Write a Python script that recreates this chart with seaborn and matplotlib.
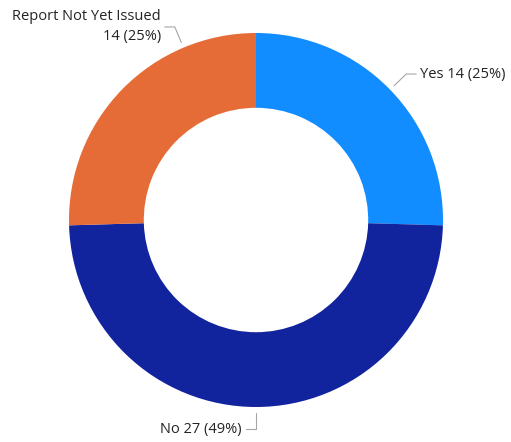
import matplotlib
matplotlib.use("Agg")
import numpy as np
import matplotlib.pyplot as plt
import seaborn as sns

labels = ["Yes", "No", "Report Not Yet Issued"]
counts = [14, 27, 14]
colors = ["#118DFF", "#12239E", "#E66C37"]

sns.set_style("white")
plt.rcParams["font.family"] = ["Open Sans", "DejaVu Sans"]

W, H, R = 511, 442, 187.0
fig = plt.figure(figsize=(W / 100, H / 100), dpi=100)
ax = fig.add_axes([0, 0, 1, 1])

wedges, _ = ax.pie(counts, colors=sns.color_palette(colors), startangle=90,
                   counterclock=False, radius=1.0,
                   wedgeprops=dict(width=0.4, linewidth=0))

total = sum(counts)
# Power BI nudges the top-left label up towards the top
angle_shift = {"Report Not Yet Issued": -23}
for w, lab, n in zip(wedges, labels, counts):
    a = np.deg2rad((w.theta1 + w.theta2) / 2 + angle_shift.get(lab, 0))
    x0, y0 = 1.03 * np.cos(a), 1.03 * np.sin(a)
    x1, y1 = 1.12 * np.cos(a), 1.12 * np.sin(a)
    d = 1 if np.cos(a) > 0.01 else -1
    x2 = x1 + d * 10 / R
    ax.plot([x0, x1, x2], [y0, y1, y1], color="#A6A6A6", lw=0.8)
    pct = f"{n} ({round(n / total * 100):.0f}%)"
    if lab == "Report Not Yet Issued":
        txt = f"{lab}\n{pct}"
    else:
        txt = f"{lab} {pct}"
    ax.text(x2 + d * 4 / R, y1, txt, ha="left" if d > 0 else "right",
            va="center", multialignment="right", fontsize=10.5,
            color="#252423", linespacing=1.45)

ax.set_xlim(-256 / R, (W - 256) / R)
ax.set_ylim(-(H - 220) / R, 220 / R)
ax.set_aspect("equal")
ax.axis("off")

fig.savefig("out.png", dpi=100, facecolor="white")
